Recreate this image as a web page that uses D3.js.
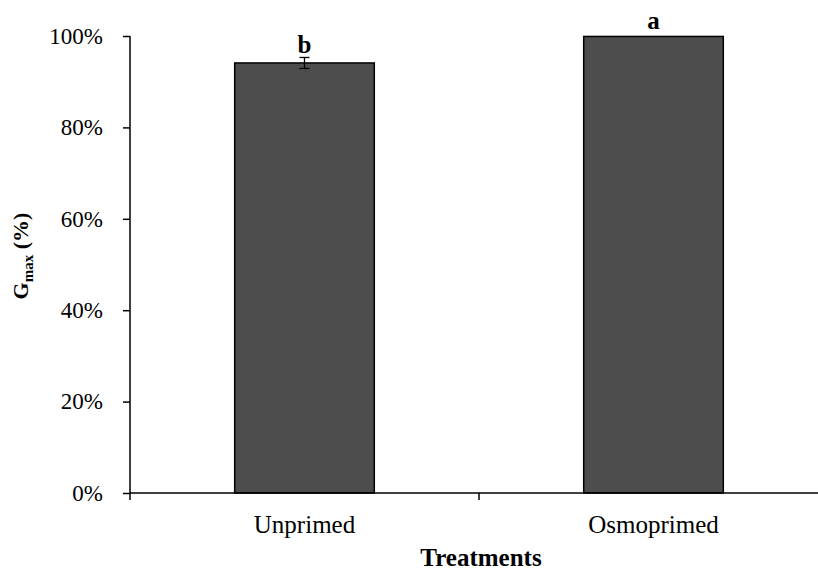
<!DOCTYPE html>
<html><head><meta charset="utf-8">
<script src="https://cdn.jsdelivr.net/npm/d3@7"></script>
<style>body{margin:0;background:#fff}svg{display:block}</style>
</head><body>
<svg id="c" width="818" height="574"></svg>
<script>
const categories = ["Unprimed", "Osmoprimed"];
const values = [0.941, 0.999];
const errors = [0.012, 0];
const letters = ["b", "a"];
const yTicks = [0, 0.2, 0.4, 0.6, 0.8, 1.0];

const svg = d3.select("#c");
const font = "'Liberation Serif','Times New Roman',serif";
const m = {left: 130, top: 36, bottom: 493, right: 828};
const x = d3.scaleBand().domain(categories).range([m.left, m.right]).paddingInner(0.6).paddingOuter(0.3);
const y = d3.scaleLinear().domain([0, 1]).range([m.bottom, m.top]);

// bars
svg.selectAll("rect.bar").data(categories).enter().append("rect")
  .attr("x", d => x(d)).attr("width", x.bandwidth())
  .attr("y", (d, i) => y(values[i])).attr("height", (d, i) => y(0) - y(values[i]))
  .attr("fill", "#4d4d4d").attr("stroke", "#000").attr("stroke-width", 1.5);

// error bars
categories.forEach((c, i) => {
  if (!errors[i]) return;
  const cx = x(c) + x.bandwidth() / 2;
  const g = svg.append("g").attr("stroke", "#000").attr("stroke-width", 1.3);
  g.append("line").attr("x1", cx).attr("x2", cx).attr("y1", y(values[i] + errors[i])).attr("y2", y(values[i] - errors[i]));
  g.append("line").attr("x1", cx - 5).attr("x2", cx + 5).attr("y1", y(values[i] + errors[i])).attr("y2", y(values[i] + errors[i]));
  g.append("line").attr("x1", cx - 5).attr("x2", cx + 5).attr("y1", y(values[i] - errors[i])).attr("y2", y(values[i] - errors[i]));
});

// letters
svg.selectAll("text.let").data(categories).enter().append("text")
  .attr("x", d => x(d) + x.bandwidth() / 2)
  .attr("y", (d, i) => y(values[i] + errors[i]) - (errors[i] ? 4.5 : 7))
  .attr("text-anchor", "middle").attr("font-family", font).attr("font-weight", "bold").attr("font-size", 25)
  .text((d, i) => letters[i]);

// y axis
const ya = svg.append("g").attr("transform", `translate(${m.left},0)`)
  .call(d3.axisLeft(y).tickValues(yTicks).tickFormat(d3.format(".0%")).tickSize(7).tickPadding(20));
ya.select(".domain").attr("stroke-width", 1.5).attr("d", `M0,${m.top}V${m.bottom}`);
ya.selectAll(".tick line").attr("stroke-width", 1.5);
ya.selectAll("text").attr("font-family", font).attr("font-size", 23).attr("fill", "#000");

// x axis
const xa = svg.append("g").attr("transform", `translate(0,${m.bottom})`)
  .call(d3.axisBottom(x).tickSize(0).tickPadding(22));
xa.select(".domain").attr("stroke-width", 1.5).attr("d", `M${m.left},0H${m.right}`);
xa.selectAll("text").attr("font-family", font).attr("font-size", 25).attr("fill", "#000");
// boundary ticks between categories
const bounds = [m.left, m.left + (m.right - m.left) / 2];
xa.selectAll("line.bt").data(bounds).enter().append("line")
  .attr("x1", d => d).attr("x2", d => d).attr("y1", 0).attr("y2", 7)
  .attr("stroke", "#000").attr("stroke-width", 1.5);

// axis titles
svg.append("text").attr("x", 481).attr("y", 566)
  .attr("text-anchor", "middle").attr("font-family", font).attr("font-weight", "bold").attr("font-size", 25)
  .text("Treatments");
const yt = svg.append("text").attr("transform", "translate(28,256) rotate(-90)")
  .attr("text-anchor", "middle").attr("font-family", font).attr("font-weight", "bold").attr("font-size", 22);
yt.append("tspan").text("G");
yt.append("tspan").attr("font-size", 15).attr("dy", 5).text("max");
yt.append("tspan").attr("dy", -5).text(" (%)");
</script>
</body></html>
